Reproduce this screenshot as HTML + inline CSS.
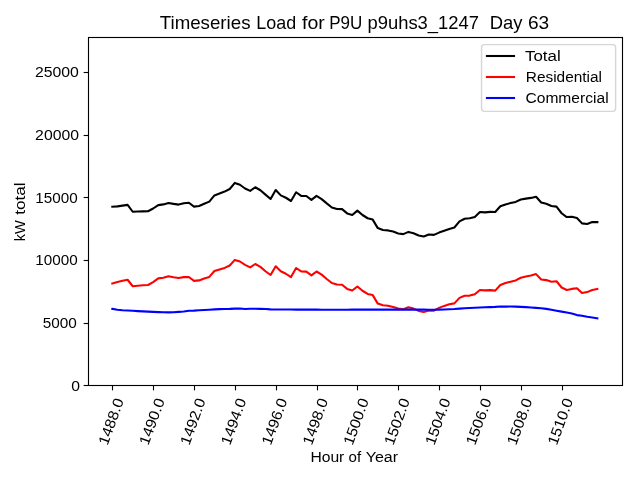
<!DOCTYPE html>
<html><head><meta charset="utf-8"><title>Timeseries Load for P9U p9uhs3_1247 Day 63</title>
<style>html,body{margin:0;padding:0;background:#fff;}body{width:640px;height:480px;overflow:hidden;}svg{display:block;will-change:transform;}text{font-family:"Liberation Sans",sans-serif;fill:#000;}</style></head><body>
<svg width="640" height="480" viewBox="0 0 640 480">
<rect x="0" y="0" width="640" height="480" fill="#ffffff"/>
<polyline points="112.30,206.75 117.41,206.40 122.51,205.60 127.62,204.90 132.72,211.75 137.83,211.50 142.93,211.40 148.04,211.25 153.15,208.50 158.25,205.10 163.36,204.40 168.46,203.00 173.57,203.90 178.68,204.60 183.78,203.25 188.89,202.75 193.99,206.60 199.10,206.00 204.20,203.75 209.31,201.60 214.42,195.40 219.52,193.50 224.63,191.60 229.73,189.00 234.84,182.90 239.94,184.75 245.05,188.50 250.16,190.90 255.26,187.25 260.37,190.25 265.47,194.60 270.58,199.00 275.69,190.00 280.79,195.40 285.90,197.75 291.00,201.00 296.11,192.25 301.21,195.90 306.32,196.00 311.43,199.90 316.53,195.90 321.64,199.10 326.74,203.40 331.85,207.50 336.96,209.00 342.06,209.10 347.17,213.40 352.27,215.00 357.38,210.60 362.48,215.00 367.59,218.25 372.70,219.60 377.80,228.10 382.91,230.00 388.01,230.40 393.12,231.60 398.22,233.50 403.33,234.10 408.44,231.90 413.54,233.25 418.65,235.50 423.75,236.50 428.86,234.50 433.97,234.90 439.07,232.60 444.18,230.75 449.28,228.90 454.39,227.50 459.49,221.40 464.60,218.75 469.71,218.25 474.81,216.90 479.92,212.00 485.02,212.40 490.13,211.90 495.24,212.00 500.34,206.25 505.45,204.40 510.55,203.10 515.66,201.90 520.76,199.50 525.87,198.60 530.98,197.90 536.08,196.75 541.19,202.50 546.29,203.75 551.40,206.00 556.50,206.60 561.61,213.25 566.72,217.05 571.82,216.80 576.93,217.95 582.03,223.40 587.14,223.95 592.25,222.10 597.35,222.10" fill="none" stroke="#000000" stroke-width="2.083" stroke-linejoin="round" stroke-linecap="square"/>
<polyline points="112.30,283.40 117.41,282.00 122.51,280.75 127.62,279.75 132.72,286.25 137.83,285.75 142.93,285.25 148.04,285.00 153.15,282.10 158.25,278.40 163.36,277.75 168.46,276.25 173.57,277.25 178.68,278.00 183.78,277.10 188.89,277.00 193.99,280.90 199.10,280.40 204.20,278.50 209.31,276.90 214.42,271.00 219.52,269.50 224.63,267.90 229.73,265.50 234.84,259.90 239.94,261.50 245.05,264.90 250.16,267.40 255.26,264.00 260.37,266.90 265.47,271.25 270.58,275.00 275.69,266.25 280.79,271.25 285.90,273.75 291.00,277.10 296.11,268.00 301.21,271.40 306.32,271.60 311.43,275.40 316.53,271.50 321.64,274.60 326.74,279.00 331.85,283.00 336.96,284.50 342.06,284.75 347.17,288.90 352.27,290.50 357.38,286.50 362.48,290.75 367.59,293.90 372.70,295.10 377.80,303.60 382.91,305.25 388.01,305.75 393.12,306.90 398.22,308.60 403.33,309.25 408.44,307.25 413.54,308.60 418.65,310.90 423.75,311.90 428.86,310.40 433.97,310.60 439.07,307.90 444.18,305.90 449.28,304.25 454.39,303.40 459.49,297.90 464.60,295.75 469.71,295.60 474.81,294.25 479.92,290.00 485.02,290.40 490.13,290.10 495.24,290.60 500.34,285.00 505.45,283.00 510.55,281.75 515.66,280.40 520.76,277.75 525.87,276.50 530.98,275.50 536.08,274.10 541.19,279.50 546.29,280.10 551.40,281.75 556.50,281.25 561.61,287.50 566.72,290.00 571.82,288.90 576.93,288.20 582.03,293.10 587.14,292.10 592.25,290.00 597.35,289.00" fill="none" stroke="#ff0000" stroke-width="2.083" stroke-linejoin="round" stroke-linecap="square"/>
<polyline points="112.30,308.90 117.41,309.75 122.51,310.25 127.62,310.50 132.72,310.75 137.83,311.10 142.93,311.40 148.04,311.60 153.15,311.90 158.25,312.10 163.36,312.25 168.46,312.40 173.57,312.25 178.68,311.90 183.78,311.50 188.89,310.75 193.99,310.60 199.10,310.25 204.20,310.00 209.31,309.75 214.42,309.40 219.52,309.10 224.63,309.00 229.73,308.90 234.84,308.60 239.94,308.50 245.05,309.00 250.16,308.75 255.26,308.75 260.37,308.90 265.47,309.00 270.58,309.40 275.69,309.50 280.79,309.50 285.90,309.50 291.00,309.55 296.11,309.60 301.21,309.60 306.32,309.60 311.43,309.65 316.53,309.65 321.64,309.70 326.74,309.70 331.85,309.70 336.96,309.70 342.06,309.70 347.17,309.70 352.27,309.65 357.38,309.65 362.48,309.65 367.59,309.65 372.70,309.65 377.80,309.65 382.91,309.65 388.01,309.65 393.12,309.65 398.22,309.65 403.33,309.65 408.44,309.65 413.54,309.65 418.65,309.65 423.75,309.65 428.86,309.75 433.97,309.75 439.07,309.60 444.18,309.50 449.28,309.25 454.39,309.00 459.49,308.60 464.60,308.25 469.71,308.00 474.81,307.75 479.92,307.50 485.02,307.25 490.13,307.10 495.24,306.90 500.34,306.50 505.45,306.60 510.55,306.50 515.66,306.60 520.76,306.90 525.87,307.10 530.98,307.50 536.08,307.90 541.19,308.25 546.29,308.90 551.40,309.80 556.50,310.75 561.61,311.60 566.72,312.55 571.82,313.60 576.93,315.10 582.03,315.75 587.14,316.80 592.25,317.50 597.35,318.40" fill="none" stroke="#0000ff" stroke-width="2.083" stroke-linejoin="round" stroke-linecap="square"/>
<rect x="88.5" y="37.5" width="534" height="348" fill="none" stroke="#000" stroke-width="1.11"/>
<line x1="83.64" y1="385.5" x2="88.5" y2="385.5" stroke="#000" stroke-width="1.11"/>
<line x1="83.64" y1="323.5" x2="88.5" y2="323.5" stroke="#000" stroke-width="1.11"/>
<line x1="83.64" y1="260.5" x2="88.5" y2="260.5" stroke="#000" stroke-width="1.11"/>
<line x1="83.64" y1="197.5" x2="88.5" y2="197.5" stroke="#000" stroke-width="1.11"/>
<line x1="83.64" y1="135.5" x2="88.5" y2="135.5" stroke="#000" stroke-width="1.11"/>
<line x1="83.64" y1="72.5" x2="88.5" y2="72.5" stroke="#000" stroke-width="1.11"/>
<line x1="112.5" y1="385.5" x2="112.5" y2="390.36" stroke="#000" stroke-width="1.11"/>
<line x1="153.5" y1="385.5" x2="153.5" y2="390.36" stroke="#000" stroke-width="1.11"/>
<line x1="194.5" y1="385.5" x2="194.5" y2="390.36" stroke="#000" stroke-width="1.11"/>
<line x1="235.5" y1="385.5" x2="235.5" y2="390.36" stroke="#000" stroke-width="1.11"/>
<line x1="276.5" y1="385.5" x2="276.5" y2="390.36" stroke="#000" stroke-width="1.11"/>
<line x1="317.5" y1="385.5" x2="317.5" y2="390.36" stroke="#000" stroke-width="1.11"/>
<line x1="357.5" y1="385.5" x2="357.5" y2="390.36" stroke="#000" stroke-width="1.11"/>
<line x1="398.5" y1="385.5" x2="398.5" y2="390.36" stroke="#000" stroke-width="1.11"/>
<line x1="439.5" y1="385.5" x2="439.5" y2="390.36" stroke="#000" stroke-width="1.11"/>
<line x1="480.5" y1="385.5" x2="480.5" y2="390.36" stroke="#000" stroke-width="1.11"/>
<line x1="521.5" y1="385.5" x2="521.5" y2="390.36" stroke="#000" stroke-width="1.11"/>
<line x1="562.5" y1="385.5" x2="562.5" y2="390.36" stroke="#000" stroke-width="1.11"/>
<rect x="481.55" y="44.6" width="134.05" height="66.8" rx="2.78" ry="2.78" fill="#ffffff" fill-opacity="0.8" stroke="#cccccc" stroke-opacity="0.8" stroke-width="1.39"/>
<line x1="486.95" y1="56.0" x2="514.0" y2="56.0" stroke="#000000" stroke-width="2.083" stroke-linecap="square"/>
<line x1="486.95" y1="77.0" x2="514.0" y2="77.0" stroke="#ff0000" stroke-width="2.083" stroke-linecap="square"/>
<line x1="486.95" y1="98.0" x2="514.0" y2="98.0" stroke="#0000ff" stroke-width="2.083" stroke-linecap="square"/>
<text x="159.79" y="28.65" font-size="17.9" textLength="90.72" lengthAdjust="spacingAndGlyphs">Timeseries</text>
<text x="256.33" y="28.65" font-size="17.9" textLength="39.84" lengthAdjust="spacingAndGlyphs">Load</text>
<text x="302.03" y="28.65" font-size="17.9" textLength="22.74" lengthAdjust="spacingAndGlyphs">for</text>
<text x="329.20" y="28.65" font-size="17.9" textLength="33.05" lengthAdjust="spacingAndGlyphs">P9U</text>
<text x="367.51" y="28.65" font-size="17.9" textLength="111.50" lengthAdjust="spacingAndGlyphs">p9uhs3_1247</text>
<text x="489.83" y="28.65" font-size="17.9" textLength="32.74" lengthAdjust="spacingAndGlyphs">Day</text>
<text x="527.97" y="28.65" font-size="17.9" textLength="21.26" lengthAdjust="spacingAndGlyphs">63</text>
<text x="310.40" y="461.95" font-size="14.7" textLength="33.93" lengthAdjust="spacingAndGlyphs">Hour</text>
<text x="348.56" y="461.95" font-size="14.7" textLength="12.58" lengthAdjust="spacingAndGlyphs">of</text>
<text x="365.72" y="461.95" font-size="14.7" textLength="32.37" lengthAdjust="spacingAndGlyphs">Year</text>
<text x="34.92" y="77.10" font-size="14.7" textLength="43.96" lengthAdjust="spacingAndGlyphs">25000</text>
<text x="35.13" y="140.10" font-size="14.7" textLength="43.84" lengthAdjust="spacingAndGlyphs">20000</text>
<text x="35.32" y="203.05" font-size="14.7" textLength="42.35" lengthAdjust="spacingAndGlyphs">15000</text>
<text x="35.32" y="265.10" font-size="14.7" textLength="42.35" lengthAdjust="spacingAndGlyphs">10000</text>
<text x="42.72" y="327.95" font-size="14.7" textLength="34.08" lengthAdjust="spacingAndGlyphs">5000</text>
<text x="71.17" y="391.10" font-size="14.7" textLength="8.75" lengthAdjust="spacingAndGlyphs">0</text>
<text x="524.97" y="60.85" font-size="14.7" textLength="35.70" lengthAdjust="spacingAndGlyphs">Total</text>
<text x="525.77" y="81.90" font-size="14.7" textLength="76.22" lengthAdjust="spacingAndGlyphs">Residential</text>
<text x="525.46" y="103.00" font-size="14.7" textLength="83.15" lengthAdjust="spacingAndGlyphs">Commercial</text>
<g transform="translate(111.00,421.50) rotate(-70)"><text x="-24.30" y="5.05" font-size="14.7" textLength="48.60" lengthAdjust="spacingAndGlyphs">1488.0</text></g>
<g transform="translate(151.85,421.50) rotate(-70)"><text x="-24.30" y="5.05" font-size="14.7" textLength="48.60" lengthAdjust="spacingAndGlyphs">1490.0</text></g>
<g transform="translate(192.69,421.50) rotate(-70)"><text x="-24.30" y="5.05" font-size="14.7" textLength="48.60" lengthAdjust="spacingAndGlyphs">1492.0</text></g>
<g transform="translate(233.54,421.50) rotate(-70)"><text x="-24.30" y="5.05" font-size="14.7" textLength="48.60" lengthAdjust="spacingAndGlyphs">1494.0</text></g>
<g transform="translate(274.39,421.50) rotate(-70)"><text x="-24.30" y="5.05" font-size="14.7" textLength="48.60" lengthAdjust="spacingAndGlyphs">1496.0</text></g>
<g transform="translate(315.23,421.50) rotate(-70)"><text x="-24.30" y="5.05" font-size="14.7" textLength="48.60" lengthAdjust="spacingAndGlyphs">1498.0</text></g>
<g transform="translate(356.08,421.50) rotate(-70)"><text x="-24.30" y="5.05" font-size="14.7" textLength="48.60" lengthAdjust="spacingAndGlyphs">1500.0</text></g>
<g transform="translate(396.92,421.50) rotate(-70)"><text x="-24.30" y="5.05" font-size="14.7" textLength="48.60" lengthAdjust="spacingAndGlyphs">1502.0</text></g>
<g transform="translate(437.77,421.50) rotate(-70)"><text x="-24.30" y="5.05" font-size="14.7" textLength="48.60" lengthAdjust="spacingAndGlyphs">1504.0</text></g>
<g transform="translate(478.62,421.50) rotate(-70)"><text x="-24.30" y="5.05" font-size="14.7" textLength="48.60" lengthAdjust="spacingAndGlyphs">1506.0</text></g>
<g transform="translate(519.46,421.50) rotate(-70)"><text x="-24.30" y="5.05" font-size="14.7" textLength="48.60" lengthAdjust="spacingAndGlyphs">1508.0</text></g>
<g transform="translate(560.31,421.50) rotate(-70)"><text x="-24.30" y="5.05" font-size="14.7" textLength="48.60" lengthAdjust="spacingAndGlyphs">1510.0</text></g>
<g transform="translate(24.75,241.34) rotate(-90)"><text x="0.00" y="0.00" font-size="14.7" textLength="20.97" lengthAdjust="spacingAndGlyphs">kW</text></g>
<g transform="translate(24.75,241.34) rotate(-90)"><text x="26.49" y="0.00" font-size="14.7" textLength="32.40" lengthAdjust="spacingAndGlyphs">total</text></g>
</svg></body></html>
